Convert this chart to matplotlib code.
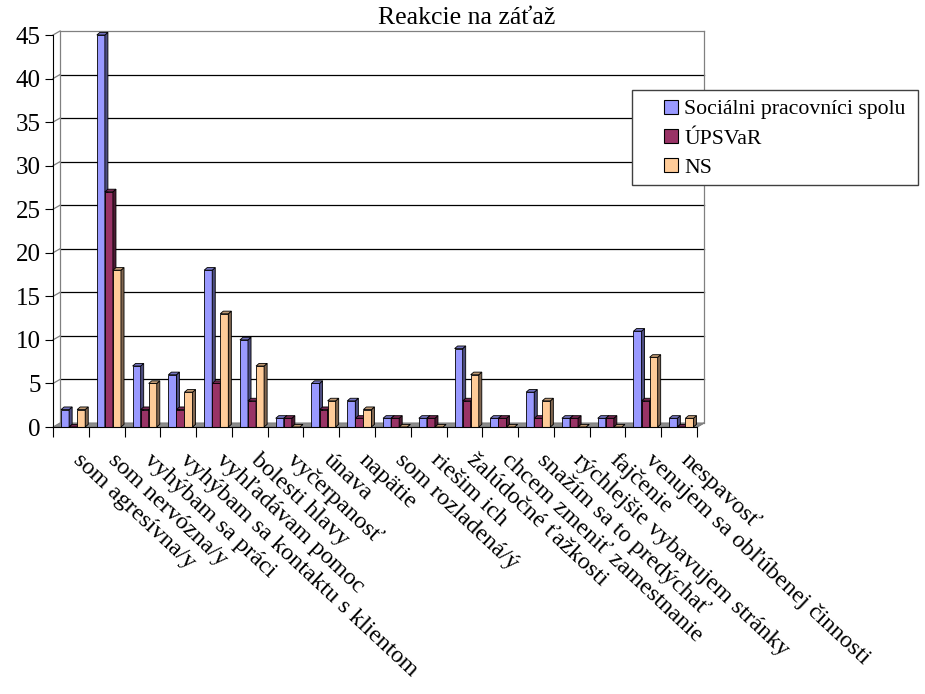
import numpy as np
import matplotlib.pyplot as plt
from matplotlib.patches import Polygon, Patch, Rectangle
from matplotlib.transforms import ScaledTranslation

plt.rcParams['font.family'] = ['Liberation Serif', 'DejaVu Serif']

categories = ['som agresívna/y', 'som nervózna/y', 'vyhýbam sa práci',
              'vyhýbam sa kontaktu s klientom', 'vyhľadávam pomoc',
              'bolesti hlavy', 'vyčerpanosť', 'únava', 'napätie',
              'som rozladená/ý', 'riešim ich', 'žalúdočné ťažkosti',
              'chcem zmeniť zamestnanie', 'snažím sa to predýchať',
              'rýchlejšie vybavujem stránky', 'fajčenie',
              'venujem sa obľúbenej činnosti', 'nespavosť']
socialni = [2, 45, 7, 6, 18, 10, 1, 5, 3, 1, 1, 9, 1, 4, 1, 1, 11, 1]
upsvar = [0, 27, 2, 2, 5, 3, 1, 2, 1, 1, 1, 3, 1, 1, 1, 1, 3, 0]
ns = [2, 18, 5, 4, 13, 7, 0, 3, 2, 0, 0, 6, 0, 3, 0, 0, 8, 1]
series_names = ['Sociálni pracovníci spolu', 'ÚPSVaR', 'NS']

fronts = ['#9999FF', '#993366', '#FFCC99']
sides = ['#4D4D80', '#4D1A33', '#806650']
tops = ['#7373BF', '#732650', '#BF9973']

W, H = 925, 694
fig = plt.figure(figsize=(W / 100, H / 100), dpi=100)
ax = fig.add_axes([53 / W, 1 - 427 / H, 644 / W, 392 / H])

n = len(categories)
ax.set_xlim(0, n)
ax.set_ylim(0, 45)

# wall offset (3D look) and bar depth in data units
wdx, wdy = 0.196, 0.46
bdx, bdy = 0.085, 0.3

# floor
ax.add_patch(Polygon([(0, 0), (n, 0), (n + wdx, wdy), (wdx, wdy)],
                     closed=True, facecolor='#8c8c8c', edgecolor='#808080',
                     lw=0.8, zorder=1, clip_on=False))
# gridlines on back and side wall
for v in range(5, 46, 5):
    col = '#808080' if v == 45 else 'black'
    ax.plot([wdx, n + wdx], [v + wdy, v + wdy], color=col, lw=0.9,
            zorder=0.5, clip_on=False)
    ax.plot([0, wdx], [v, v + wdy], color='#808080', lw=0.9,
            zorder=0.5, clip_on=False)
ax.plot([wdx, wdx], [wdy, 45 + wdy], color='#808080', lw=0.9, zorder=0.5,
        clip_on=False)
ax.plot([n + wdx, n + wdx], [wdy, 45 + wdy], color='#808080', lw=0.9,
        zorder=0.5, clip_on=False)
ax.plot([n, n + wdx], [0, wdy], color='#808080', lw=0.9, zorder=1.5,
        clip_on=False)

bw = 0.225
x0 = np.arange(n)
for k, vals in enumerate([socialni, upsvar, ns]):
    xs = x0 + bw * (k + 1)
    z = 3 + k
    ax.bar(xs, vals, width=bw, align='edge', color=fronts[k],
           edgecolor='black', linewidth=0.6, zorder=z, clip_on=False)
    for x, h in zip(xs, vals):
        ax.add_patch(Polygon([(x + bw, 0), (x + bw + bdx, bdy),
                              (x + bw + bdx, h + bdy), (x + bw, h)],
                             closed=True, facecolor=sides[k],
                             edgecolor='black', lw=0.6, zorder=z,
                             clip_on=False))
        ax.add_patch(Polygon([(x, h), (x + bdx, h + bdy),
                              (x + bw + bdx, h + bdy), (x + bw, h)],
                             closed=True, facecolor=tops[k],
                             edgecolor='black', lw=0.6, zorder=z,
                             clip_on=False))

for s in ['top', 'right']:
    ax.spines[s].set_visible(False)
ax.spines['left'].set_zorder(10)
ax.spines['bottom'].set_zorder(10)

ax.set_yticks(range(0, 46, 5))
ax.tick_params(axis='y', length=6, pad=3, labelsize=18, direction='out')
ax.set_xticks(range(0, n + 1))
ax.tick_params(axis='x', which='major', length=7, labelbottom=False,
               direction='out')
ax.set_xticks(x0 + 0.5, categories, minor=True)
ax.tick_params(axis='x', which='minor', length=0, pad=16, labelsize=17.5)
for lab in ax.get_xticklabels(minor=True):
    lab.set_rotation(-43)
    lab.set_ha('left')
    lab.set_va('top')
    lab.set_rotation_mode('anchor')
    lab.set_transform(lab.get_transform() +
                      ScaledTranslation(12 / 100, 0, fig.dpi_scale_trans))

# legend frame drawn separately (handles sit well inside it)
fig.add_artist(Rectangle((632 / W, 1 - 185 / H), 286 / W, 95 / H,
                         transform=fig.transFigure, facecolor='white',
                         edgecolor='#404040', lw=1.0, zorder=20))
handles = [Patch(facecolor=fronts[k], edgecolor='black', lw=0.8)
           for k in range(3)]
leg = fig.legend(handles, series_names, loc='upper left',
                 bbox_to_anchor=(657 / W, 1 - 93 / H), fontsize=15.7,
                 frameon=False, handlelength=0.65, handleheight=0.65,
                 handletextpad=0.3, labelspacing=0.42, borderpad=0.3,
                 borderaxespad=0)
leg.set_zorder(21)

fig.text(467 / W, 1 - 18 / H, 'Reakcie na záťaž', ha='center',
         va='center', fontsize=18.5)

fig.savefig('out.png', dpi=100)
